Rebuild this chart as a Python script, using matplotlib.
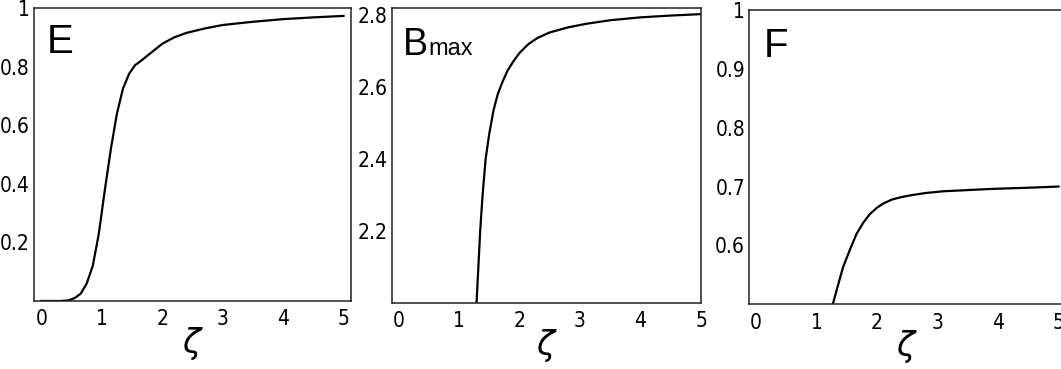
import matplotlib
matplotlib.use("Agg")
import matplotlib.pyplot as plt
from matplotlib import font_manager

# E(zeta)
e_x = [0, 0.3, 0.45, 0.55, 0.65, 0.75, 0.85, 0.95, 1.05, 1.15, 1.25, 1.35, 1.45,
       1.55, 1.65, 1.8, 2.0, 2.2, 2.4, 2.7, 3.0, 3.5, 4.0, 4.5, 5.0]
e_y = [0, 0, 0.002, 0.01, 0.025, 0.06, 0.12, 0.23, 0.38, 0.52, 0.64, 0.725, 0.775,
       0.805, 0.82, 0.845, 0.878, 0.9, 0.915, 0.93, 0.942, 0.953, 0.962, 0.968, 0.973]

# Bmax(zeta)
b_x = [1.29, 1.32, 1.35, 1.39, 1.44, 1.5, 1.57, 1.64, 1.72, 1.8, 1.9, 2.0, 2.15,
       2.3, 2.5, 2.8, 3.1, 3.5, 4.0, 4.5, 5.0]
b_y = [2.0, 2.1, 2.2, 2.3, 2.4, 2.47, 2.535, 2.58, 2.615, 2.645, 2.672, 2.695, 2.72,
       2.737, 2.752, 2.766, 2.776, 2.786, 2.794, 2.799, 2.803]

# F(zeta)
f_x = [1.27, 1.35, 1.44, 1.55, 1.66, 1.77, 1.88, 2.0, 2.1, 2.25, 2.4, 2.55, 2.8,
       3.1, 3.5, 3.9, 4.5, 5.0]
f_y = [0.5, 0.53, 0.563, 0.592, 0.619, 0.638, 0.653, 0.664, 0.671, 0.678, 0.682,
       0.685, 0.689, 0.692, 0.694, 0.696, 0.698, 0.700]

x_ticks = [0, 1, 2, 3, 4, 5]
e_ticks = [0.2, 0.4, 0.6, 0.8, 1.0]
e_labels = ["0.2", "0.4", "0.6", "0.8", "1"]
b_ticks = [2.2, 2.4, 2.6, 2.8]
b_labels = ["2.2", "2.4", "2.6", "2.8"]
f_ticks = [0.6, 0.7, 0.8, 0.9, 1.0]
f_labels = ["0.6", "0.7", "0.8", "0.9", "1"]

# look for a condensed face for the tick numbers
tick_fp = None
for f in font_manager.fontManager.ttflist:
    if "Narrow" in f.name or "Condensed" in f.name or f.stretch in ("condensed", "semi-condensed"):
        if "Bold" not in f.fname and "Oblique" not in f.fname and "Italic" not in f.fname:
            tick_fp = font_manager.FontProperties(fname=f.fname, size=15)
            break
if tick_fp is None:
    tick_fp = font_manager.FontProperties(family="Liberation Sans", size=13.5)

name_font = ["Liberation Sans", "DejaVu Sans"]

fig = plt.figure(figsize=(10.61, 3.69), dpi=100)

panels = [
    ([0.032, 0.1843, 0.2988, 0.794], (-0.124, 5.124), (0.0, 1.0), (e_x, e_y), e_ticks, e_labels),
    ([0.3695, 0.1797, 0.2912, 0.7986], (-0.107, 5.0), (2.0, 2.82), (b_x, b_y), b_ticks, b_labels),
    ([0.7062, 0.1754, 0.2977, 0.7976], (-0.11, 5.11), (0.5, 1.0), (f_x, f_y), f_ticks, f_labels),
]

axes = []
for rect, xl, yl, (xs, ys), yt, yl_labels in panels:
    ax = fig.add_axes(rect)
    ax.plot(xs, ys, color="black", lw=1.6)
    ax.set_xlim(*xl)
    ax.set_ylim(*yl)
    ax.set_xticks(x_ticks)
    ax.set_xticklabels([str(t) for t in x_ticks], fontproperties=tick_fp)
    ax.set_yticks(yt)
    ax.set_yticklabels(yl_labels, fontproperties=tick_fp)
    ax.tick_params(length=0, pad=3)
    ax.tick_params(axis="x", pad=6)
    for s in ax.spines.values():
        s.set_linewidth(1.1)
        s.set_color("#222222")
    ax.set_xlabel(r"$\zeta$", fontsize=24, labelpad=-3)
    axes.append(ax)

axes[0].text(0.04, 0.846, "E", transform=axes[0].transAxes, fontsize=29, family=name_font)
axes[1].text(0.035, 0.84, "B", transform=axes[1].transAxes, fontsize=27, family=name_font)
axes[1].text(0.118, 0.84, "max", transform=axes[1].transAxes, fontsize=17, family=name_font)
axes[2].text(0.045, 0.84, "F", transform=axes[2].transAxes, fontsize=29, family=name_font)

fig.savefig("out.png", dpi=100)
